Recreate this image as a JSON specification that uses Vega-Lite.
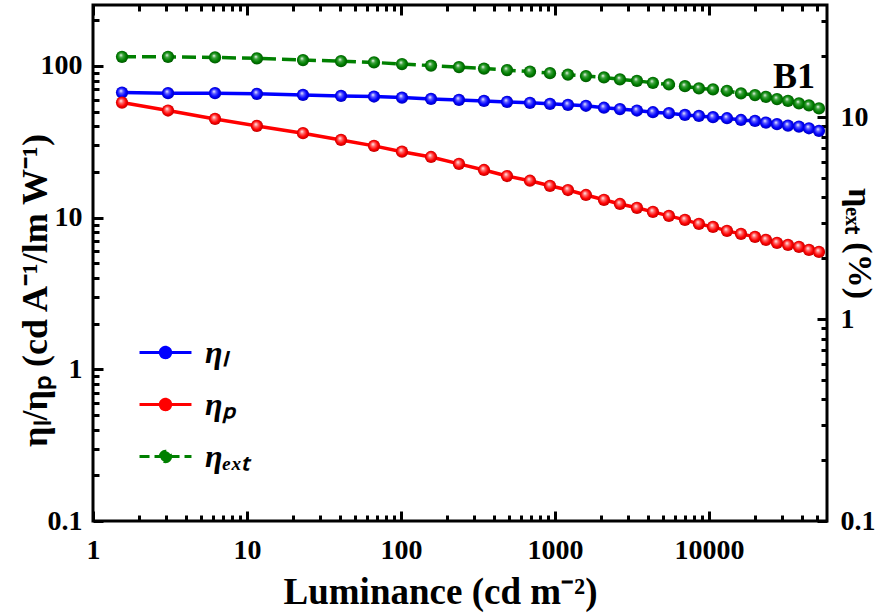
{
  "$schema": "https://vega.github.io/schema/vega-lite/v6.json",
  "width": 734,
  "height": 516,
  "autosize": "none",
  "padding": {"left": 93, "top": 5, "right": 69, "bottom": 95},
  "background": "white",
  "config": {"view": {"stroke": "black", "strokeWidth": 3}, "font": "Liberation Serif", "axis": {"labelFont": "Liberation Serif", "titleFont": "Liberation Serif"}, "legend": {"labelFont": "Liberation Serif"}},
  "title": {"text": "B1", "orient": "top", "anchor": "end", "frame": "group", "offset": -92, "dx": -12, "font": "Liberation Serif", "fontSize": 36, "fontWeight": "bold", "color": "black"},
  "data": {"values": [
    {"L": 1.543, "etaL": 66.7, "etaP": 57.3, "etaExt": 19.88},
    {"L": 3.07, "etaL": 66.1, "etaP": 50.8, "etaExt": 19.88},
    {"L": 6.2, "etaL": 66.1, "etaP": 44.7, "etaExt": 19.75},
    {"L": 11.6, "etaL": 65.4, "etaP": 40.2, "etaExt": 19.53},
    {"L": 23.1, "etaL": 64.4, "etaP": 36.0, "etaExt": 19.15},
    {"L": 40.8, "etaL": 63.4, "etaP": 32.5, "etaExt": 18.93},
    {"L": 66.8, "etaL": 62.8, "etaP": 29.7, "etaExt": 18.66},
    {"L": 101.5, "etaL": 61.8, "etaP": 27.2, "etaExt": 18.30},
    {"L": 156.7, "etaL": 60.6, "etaP": 25.1, "etaExt": 17.99},
    {"L": 238, "etaL": 59.7, "etaP": 22.6, "etaExt": 17.68},
    {"L": 346, "etaL": 58.8, "etaP": 20.6, "etaExt": 17.39},
    {"L": 488, "etaL": 57.9, "etaP": 18.8, "etaExt": 17.09},
    {"L": 688, "etaL": 57.1, "etaP": 17.5, "etaExt": 16.80},
    {"L": 928, "etaL": 56.2, "etaP": 16.2, "etaExt": 16.51},
    {"L": 1214, "etaL": 55.4, "etaP": 15.2, "etaExt": 16.23},
    {"L": 1589, "etaL": 54.6, "etaP": 14.1, "etaExt": 15.96},
    {"L": 2080, "etaL": 53.0, "etaP": 13.1, "etaExt": 15.72},
    {"L": 2642, "etaL": 51.9, "etaP": 12.3, "etaExt": 15.37},
    {"L": 3406, "etaL": 50.8, "etaP": 11.6, "etaExt": 15.12},
    {"L": 4325, "etaL": 49.5, "etaP": 10.9, "etaExt": 14.78},
    {"L": 5495, "etaL": 48.8, "etaP": 10.26, "etaExt": 14.51},
    {"L": 6982, "etaL": 47.5, "etaP": 9.66, "etaExt": 14.23},
    {"L": 8605, "etaL": 46.8, "etaP": 9.09, "etaExt": 13.87},
    {"L": 10620, "etaL": 45.9, "etaP": 8.68, "etaExt": 13.71},
    {"L": 13090, "etaL": 45.2, "etaP": 8.17, "etaExt": 13.50},
    {"L": 16140, "etaL": 44.0, "etaP": 7.81, "etaExt": 13.10},
    {"L": 19900, "etaL": 43.4, "etaP": 7.46, "etaExt": 12.85},
    {"L": 23450, "etaL": 42.3, "etaP": 7.13, "etaExt": 12.60},
    {"L": 27650, "etaL": 41.3, "etaP": 6.81, "etaExt": 12.28},
    {"L": 32590, "etaL": 40.4, "etaP": 6.61, "etaExt": 12.04},
    {"L": 38400, "etaL": 39.8, "etaP": 6.41, "etaExt": 11.69},
    {"L": 44590, "etaL": 38.8, "etaP": 6.12, "etaExt": 11.43},
    {"L": 51800, "etaL": 37.3, "etaP": 5.94, "etaExt": 11.04}
  ]},
  "layer": [
    {
      "transform": [{"fold": ["etaL", "etaP"], "as": ["series", "value"]}],
      "encoding": {
        "x": {"field": "L", "type": "quantitative",
          "scale": {"type": "log", "domain": [1, 58400]},
          "axis": {"orient": "bottom", "offset": -10,
            "values": [1, 10, 100, 1000, 10000],
            "format": "~g", "domain": false, "ticks": true,
            "tickSize": 10, "tickWidth": 3, "tickColor": "#000000", "tickOpacity": 1,
            "labelFont": "Liberation Serif", "labelFontSize": 28, "labelFontWeight": "bold", "labelColor": "black",
            "labelPadding": 15, "labelFlush": false, "labelOverlap": false, "grid": false,
            "title": "Luminance (cd m⁻²)", "titleFont": "Liberation Serif", "titleFontSize": 37, "titleFontWeight": "bold", "titleColor": "black",
            "titleX": 347, "titleY": 92, "titleBaseline": "alphabetic", "titleAlign": "center"}},
        "y": {"field": "value", "type": "quantitative",
          "scale": {"type": "log", "domain": [0.1, 252]},
          "axis": {"orient": "left", "offset": -10,
            "values": [0.1, 1, 10, 100],
            "format": "~g", "domain": false, "ticks": true,
            "tickSize": 10, "tickWidth": 3, "tickColor": "#000000", "tickOpacity": 1,
            "labelFont": "Liberation Serif", "labelFontSize": 28, "labelFontWeight": "bold", "labelColor": "black",
            "labelPadding": 11, "labelFlush": false, "labelOverlap": false, "grid": false,
            "title": "ηₗ/ηₚ (cd A⁻¹/lm W⁻¹)", "titleFont": "Liberation Serif", "titleFontSize": 36, "titleFontWeight": "bold", "titleColor": "black",
            "titleAngle": 270, "titleX": -68, "titleY": 285, "titleAlign": "center", "titleBaseline": "middle"}}
      },
      "layer": [
        {"mark": {"type": "line", "strokeWidth": 3.5},
         "encoding": {"color": {"field": "series", "type": "nominal",
           "scale": {"domain": ["etaL", "etaP", "etaExt"], "range": ["#0000ff", "#ff0000", "#008000"]},
           "legend": {"orient": "none", "legendX": 45, "legendY": 320, "title": null,
             "symbolType": "M-1,0H1M0.2,0A0.2,0.2,0,1,1,-0.2,0A0.2,0.2,0,1,1,0.2,0Z",
             "symbolSize": 2700, "symbolStrokeWidth": 3,
             "labelFont": "Liberation Serif", "labelFontSize": 32, "labelFontStyle": "italic", "labelFontWeight": "bold", "labelColor": "black",
             "labelExpr": "datum.value == 'etaL' ? 'ηₗ' : datum.value == 'etaP' ? 'ηₚ' : 'ηₑₓₜ'",
             "rowPadding": 8, "labelOffset": 12,
             "encode": {"symbols": {"update": {"fill": {"scale": "color", "field": "value"}, "strokeDash": {"signal": "datum.value == 'etaExt' ? [10,5] : [1,0]"}, "opacity": {"value": 1}}}}}}}},
        {"transform": [{"filter": "datum.series == 'etaL'"}],
         "mark": {"type": "point", "filled": true, "size": 150, "opacity": 1,
           "fill": {"gradient": "radial", "x1": 0.4, "y1": 0.35, "r1": 0, "x2": 0.5, "y2": 0.5, "r2": 0.55,
             "stops": [{"offset": 0, "color": "#ffffff"}, {"offset": 0.3, "color": "#5a5aff"}, {"offset": 0.65, "color": "#0000ff"}, {"offset": 1, "color": "#0000a8"}]}}},
        {"transform": [{"filter": "datum.series == 'etaP'"}],
         "mark": {"type": "point", "filled": true, "size": 150, "opacity": 1,
           "fill": {"gradient": "radial", "x1": 0.4, "y1": 0.35, "r1": 0, "x2": 0.5, "y2": 0.5, "r2": 0.55,
             "stops": [{"offset": 0, "color": "#ffffff"}, {"offset": 0.3, "color": "#ff6a6a"}, {"offset": 0.65, "color": "#ff0000"}, {"offset": 1, "color": "#b00000"}]}}}
      ]
    },
    {
      "encoding": {
        "x": {"field": "L", "type": "quantitative",
          "scale": {"type": "log", "domain": [1, 58400]},
          "axis": {"orient": "top", "offset": -10, "values": [1, 10, 100, 1000, 10000], "labels": false, "domain": false, "ticks": true,
            "tickSize": 10, "tickWidth": 3, "tickColor": "#000000", "tickOpacity": 1, "grid": false, "title": null}},
        "y": {"field": "etaExt", "type": "quantitative",
          "scale": {"type": "log", "domain": [0.1, 35.9]},
          "axis": {"orient": "right", "offset": -10,
            "values": [0.1, 1, 10],
            "format": "~g", "domain": false, "ticks": true,
            "tickSize": 10, "tickWidth": 3, "tickColor": "#000000", "tickOpacity": 1,
            "labelFont": "Liberation Serif", "labelFontSize": 28, "labelFontWeight": "bold", "labelColor": "black",
            "labelPadding": 13, "labelFlush": false, "labelOverlap": false, "grid": false,
            "title": "ηₑₓₜ (%)", "titleFont": "Liberation Serif", "titleFontSize": 34, "titleFontWeight": "bold", "titleColor": "black",
            "titleAngle": 90, "titleX": 31, "titleY": 238, "titleAlign": "center", "titleBaseline": "alphabetic"}}
      },
      "layer": [
        {"mark": {"type": "line", "strokeWidth": 3.5, "strokeDash": [14, 6]},
         "encoding": {"color": {"datum": "etaExt", "type": "nominal"}}},
        {"mark": {"type": "point", "filled": true, "size": 150, "opacity": 1,
           "fill": {"gradient": "radial", "x1": 0.4, "y1": 0.35, "r1": 0, "x2": 0.5, "y2": 0.5, "r2": 0.55,
             "stops": [{"offset": 0, "color": "#ffffff"}, {"offset": 0.3, "color": "#3fa33f"}, {"offset": 0.65, "color": "#008000"}, {"offset": 1, "color": "#004d00"}]}}}
      ]
    },
    {
      "mark": {"type": "point", "opacity": 0},
      "encoding": {
        "x": {"field": "L", "type": "quantitative",
          "scale": {"type": "log", "domain": [1, 58400]},
          "axis": {"orient": "bottom", "offset": -6,
            "values": [2,3,4,5,6,7,8,9,20,30,40,50,60,70,80,90,200,300,400,500,600,700,800,900,2000,3000,4000,5000,6000,7000,8000,9000,20000,30000,40000,50000],
            "labels": false, "domain": false, "grid": false, "title": null, "ticks": true,
            "tickSize": 6, "tickWidth": 3, "tickColor": "#000000", "tickOpacity": 1}},
        "y": {"field": "etaL", "type": "quantitative",
          "scale": {"type": "log", "domain": [0.1, 252]},
          "axis": {"orient": "left", "offset": -6,
            "values": [0.2,0.3,0.4,0.5,0.6,0.7,0.8,0.9,2,3,4,5,6,7,8,9,20,30,40,50,60,70,80,90,200],
            "labels": false, "domain": false, "grid": false, "title": null, "ticks": true,
            "tickSize": 6, "tickWidth": 3, "tickColor": "#000000", "tickOpacity": 1}}
      }
    },
    {
      "mark": {"type": "point", "opacity": 0},
      "encoding": {
        "x": {"field": "L", "type": "quantitative",
          "scale": {"type": "log", "domain": [1, 58400]},
          "axis": {"orient": "top", "offset": -6,
            "values": [2,3,4,5,6,7,8,9,20,30,40,50,60,70,80,90,200,300,400,500,600,700,800,900,2000,3000,4000,5000,6000,7000,8000,9000,20000,30000,40000,50000],
            "labels": false, "domain": false, "grid": false, "title": null, "ticks": true,
            "tickSize": 6, "tickWidth": 3, "tickColor": "#000000", "tickOpacity": 1}},
        "y": {"field": "etaExt", "type": "quantitative",
          "scale": {"type": "log", "domain": [0.1, 35.9]},
          "axis": {"orient": "right", "offset": -6,
            "values": [0.2,0.3,0.4,0.5,0.6,0.7,0.8,0.9,2,3,4,5,6,7,8,9,20,30],
            "labels": false, "domain": false, "grid": false, "title": null, "ticks": true,
            "tickSize": 6, "tickWidth": 3, "tickColor": "#000000", "tickOpacity": 1}}
      }
    }
  ],
  "resolve": {"scale": {"y": "independent"}, "axis": {"x": "independent", "y": "independent"}}
}
